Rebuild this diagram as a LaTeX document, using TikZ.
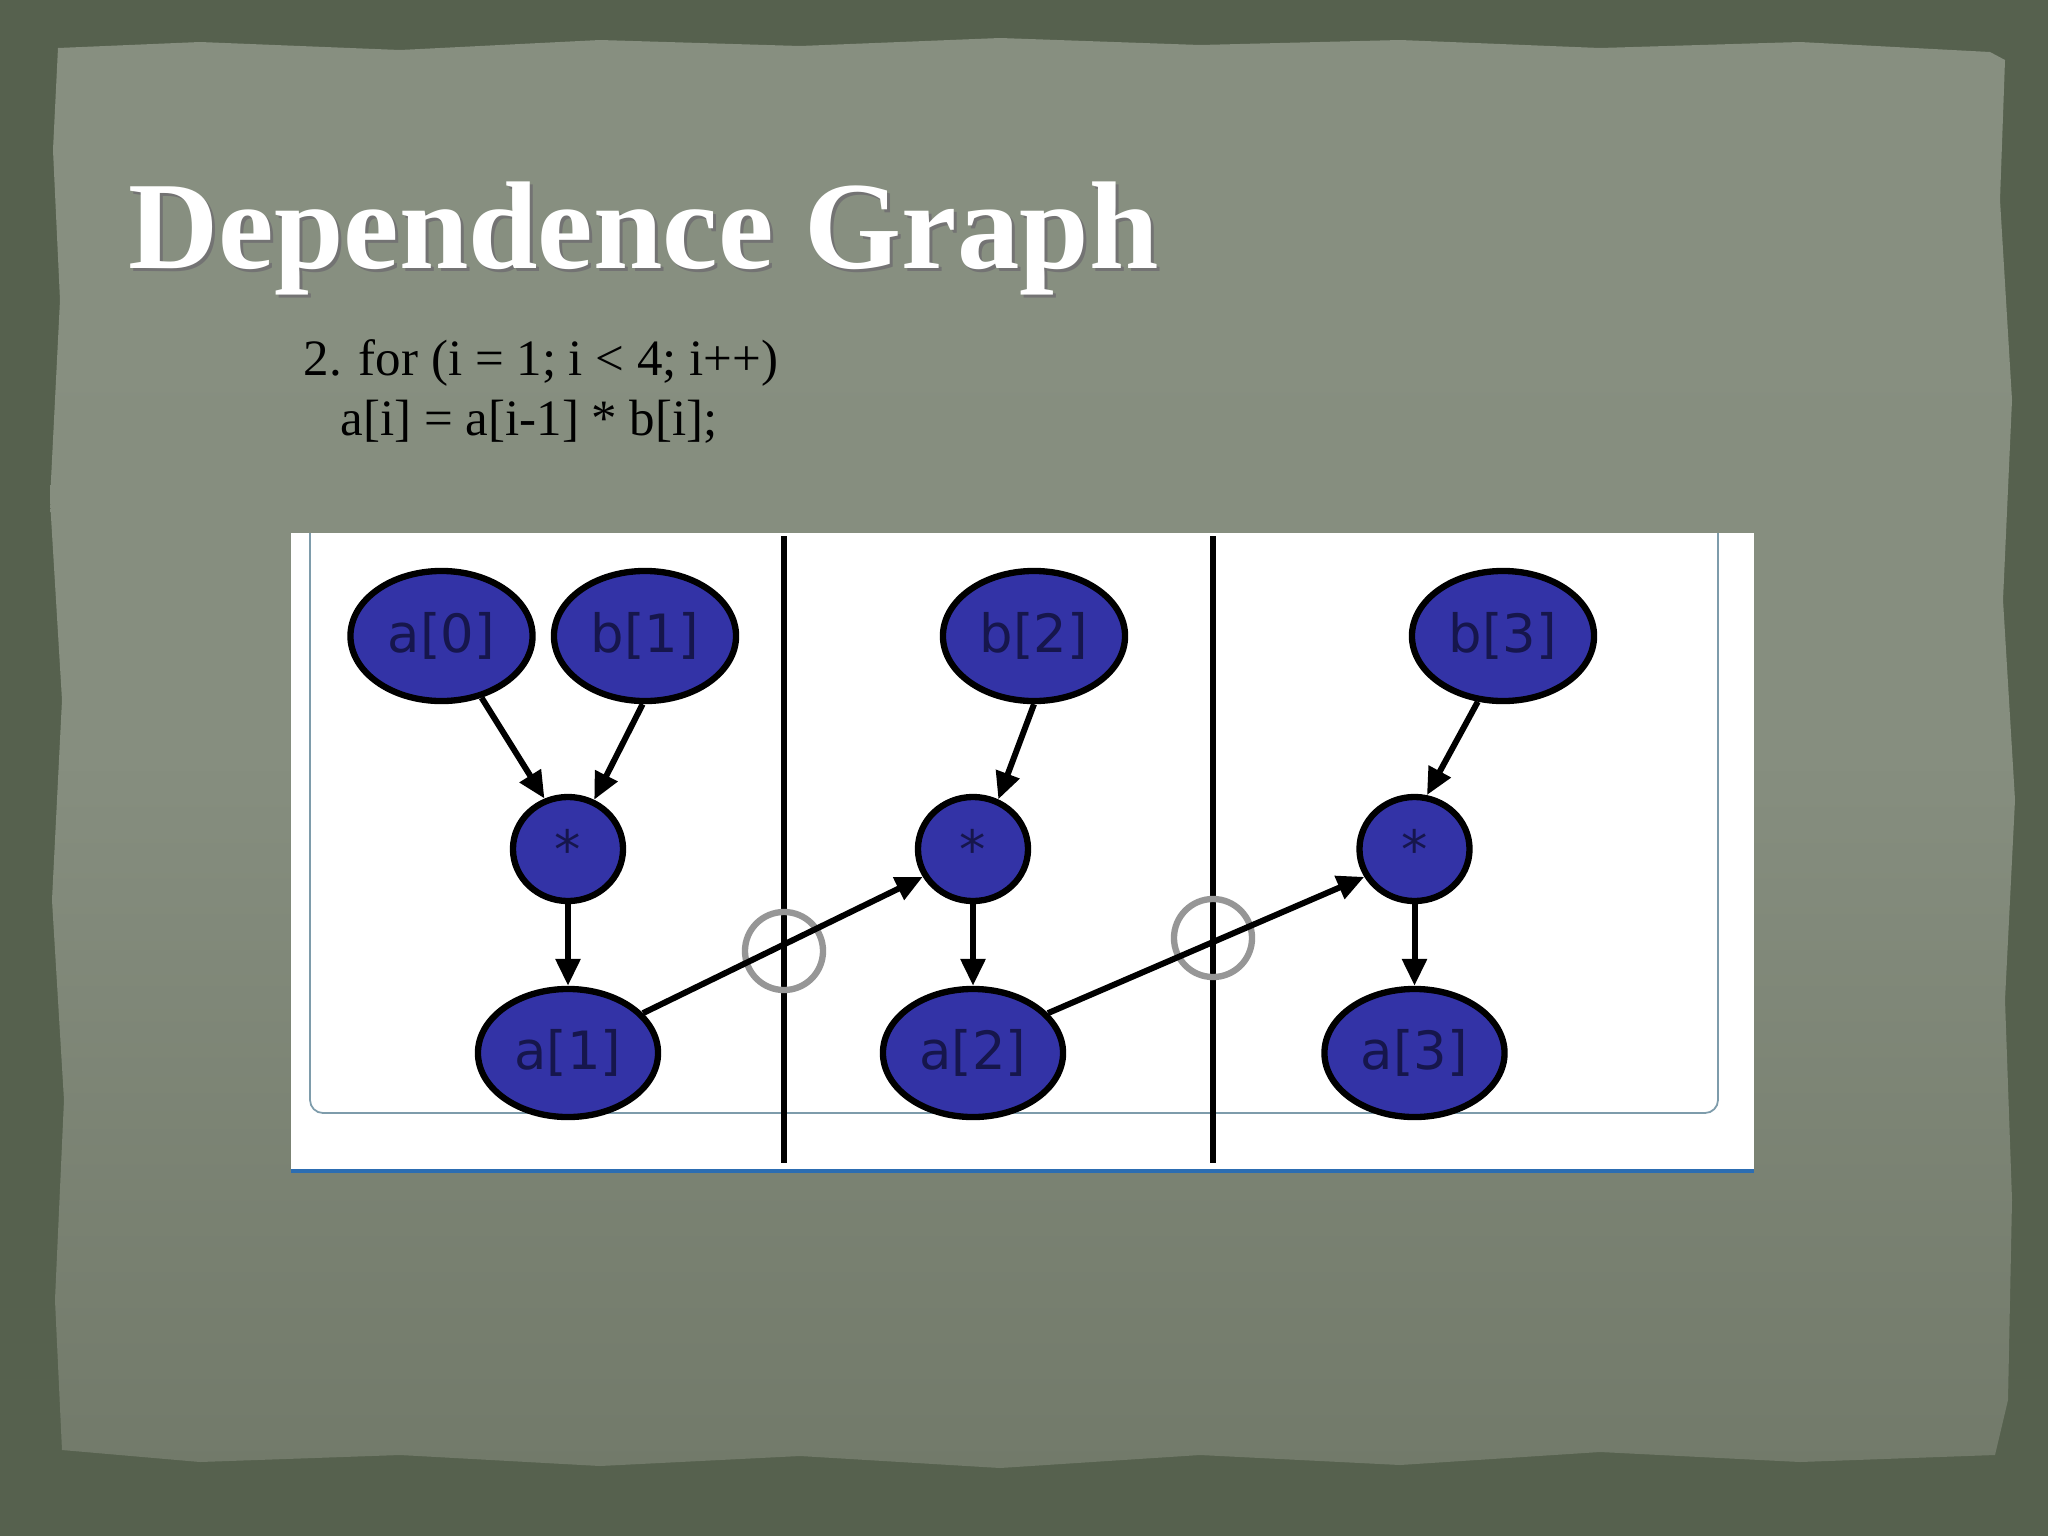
\documentclass[tikz,border=0pt]{standalone}
\usepackage{fontspec}
\setmainfont{Liberation Serif}
\newfontfamily\nodefont{DejaVu Sans}
\usetikzlibrary{shapes.geometric,arrows.meta}
\definecolor{framecol}{HTML}{56614E}
\definecolor{papertop}{HTML}{878F80}
\definecolor{papermid}{HTML}{868E7F}
\definecolor{paperbot}{HTML}{727A6A}
\definecolor{nodeblue}{HTML}{3333A6}
\definecolor{nodetext}{HTML}{16164C}
\definecolor{ringgray}{HTML}{969696}
\definecolor{rulblue}{HTML}{2C6DB2}
\definecolor{innerframe}{HTML}{7E9CAB}
\begin{document}
\begin{tikzpicture}[x=0.01cm,y=-0.01cm,
  varnode/.style={ellipse, draw=black, line width=1.8pt, fill=nodeblue,
    minimum width=1.82cm, minimum height=1.3cm, inner sep=0pt,
    font=\nodefont\fontsize{15}{15}\selectfont, text=nodetext},
  opnode/.style={varnode, minimum width=1.1cm, minimum height=1.04cm},
  dep/.style={line width=1.7pt, -{Triangle[length=0.27cm,width=0.24cm]}},
  ringnode/.style={circle, draw=ringgray, line width=1.8pt, minimum size=0.78cm, inner sep=0pt},
  dividerline/.style={line width=1.5pt, black},
  titletext/.style={inner sep=0pt, anchor=base west, font=\bfseries\fontsize{35.5}{36}\selectfont},
  codetext/.style={inner sep=0pt, anchor=base west, font=\fontsize{14.5}{15}\selectfont, text=black},
]
\useasboundingbox (0,0) rectangle (2048,1536);
% background frame
\fill[framecol] (0,0) rectangle (2048,1536);
% torn paper
\shade[top color=papertop, bottom color=paperbot, middle color=papermid]
 (58,48) -- (200,42) -- (400,50) -- (600,40) -- (800,46) -- (1000,38) -- (1200,45)
 -- (1400,40) -- (1600,48) -- (1800,42) -- (1990,52) -- (2005,60) -- (2000,200)
 -- (2012,400) -- (2003,600) -- (2015,800) -- (2005,1000) -- (2012,1200)
 -- (2008,1400) -- (1995,1455) -- (1800,1462) -- (1600,1452) -- (1400,1465)
 -- (1200,1455) -- (1000,1468) -- (800,1456) -- (600,1466) -- (400,1455)
 -- (200,1462) -- (62,1450) -- (55,1300) -- (64,1100) -- (52,900) -- (62,700)
 -- (50,500) -- (60,300) -- (53,150) -- cycle;
% title
\node[titletext, text=black!55] (titleshadow) at (131,271) {Dependence Graph};
\node[titletext, text=white] (title) at (128,268) {Dependence Graph};
% code
\node[codetext] (code1) at (303,375) {2. for (i = 1; i < 4; i++)};
\node[codetext] (code2) at (340,435) {a[i] = a[i-1] * b[i];};
% white picture
\fill[white] (291,533) rectangle (1754,1170);
\draw[innerframe, line width=0.5pt] (310,533) -- (310,1100) arc[start angle=180,end angle=90,x radius=13,y radius=13] -- (1705,1113)
  arc[start angle=90,end angle=0,x radius=13,y radius=13] -- (1718,533);
\draw[rulblue, line width=1pt] (291,1171) -- (1754,1171);
% dividers
\coordinate (v1t) at (784,536);
\coordinate (v1b) at (784,1163);
\coordinate (v2t) at (1213,536);
\coordinate (v2b) at (1213,1163);
\draw[dividerline] (v1t) -- (v1b);
\draw[dividerline] (v2t) -- (v2b);
% rings
\node[ringnode] (r1) at (784,951) {};
\node[ringnode] (r2) at (1213,938) {};
% nodes
\node[varnode] (a0) at (441.5,636) {a[0]};
\node[varnode] (b1) at (645,636) {b[1]};
\node[opnode] (m1) at (568,849) {*};
\node[varnode, minimum width=1.8cm, minimum height=1.28cm] (a1) at (568,1053) {a[1]};
\node[varnode] (b2) at (1034,636) {b[2]};
\node[opnode] (m2) at (973,849) {*};
\node[varnode, minimum width=1.8cm, minimum height=1.28cm] (a2) at (973,1053) {a[2]};
\node[varnode] (b3) at (1503,636) {b[3]};
\node[opnode] (m3) at (1414.5,849) {*};
\node[varnode, minimum width=1.8cm, minimum height=1.28cm] (a3) at (1414.5,1053) {a[3]};
% edges
\draw[dep] (a0.-57) -- (m1.115);
\draw[dep] (b1.-92) -- (m1.62);
\draw[dep] (b2.-90) -- (m2.63);
\draw[dep] (b3.-111) -- (m3.77);
\draw[dep] (m1.south) -- (a1.north);
\draw[dep] (m2.south) -- (a2.north);
\draw[dep] (m3.south) -- (a3.north);
\draw[dep] (a1.28) -- (m2.209);
\draw[dep] (a2.28) -- (m3.209);
\end{tikzpicture}
\end{document}
